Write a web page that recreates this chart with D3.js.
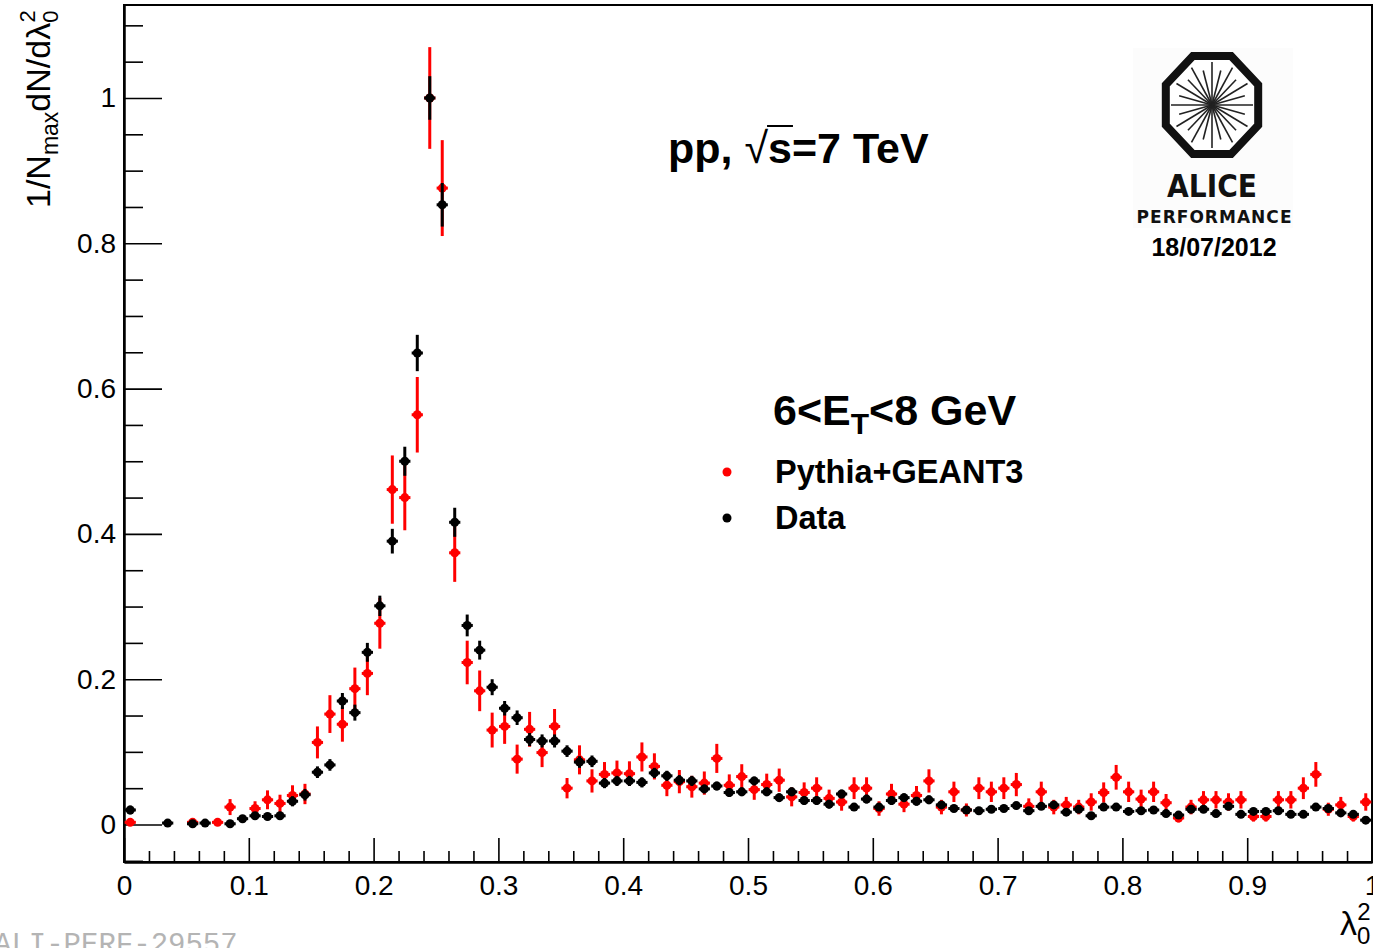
<!DOCTYPE html>
<html>
<head>
<meta charset="utf-8">
<script src="https://cdn.jsdelivr.net/npm/d3@7"></script>
<style>
  html, body { margin: 0; padding: 0; background: #fff; overflow: hidden; }
  svg { display: block; font-family: "Liberation Sans", Arial, sans-serif; }
</style>
</head>
<body>
<svg id="chart" width="1373" height="948"></svg>
<script>
// bin centres of lambda_0^2 (bin width 0.01)
const lambdaBins = [
  0.005, 0.015, 0.025, 0.035, 0.045, 0.055, 0.065, 0.075, 0.085, 0.095,
  0.105, 0.115, 0.125, 0.135, 0.145, 0.155, 0.165, 0.175, 0.185, 0.195,
  0.205, 0.215, 0.225, 0.235, 0.245, 0.255, 0.265, 0.275, 0.285, 0.295,
  0.305, 0.315, 0.325, 0.335, 0.345, 0.355, 0.365, 0.375, 0.385, 0.395,
  0.405, 0.415, 0.425, 0.435, 0.445, 0.455, 0.465, 0.475, 0.485, 0.495,
  0.505, 0.515, 0.525, 0.535, 0.545, 0.555, 0.565, 0.575, 0.585, 0.595,
  0.605, 0.615, 0.625, 0.635, 0.645, 0.655, 0.665, 0.675, 0.685, 0.695,
  0.705, 0.715, 0.725, 0.735, 0.745, 0.755, 0.765, 0.775, 0.785, 0.795,
  0.805, 0.815, 0.825, 0.835, 0.845, 0.855, 0.865, 0.875, 0.885, 0.895,
  0.905, 0.915, 0.925, 0.935, 0.945, 0.955, 0.965, 0.975, 0.985, 0.995
];

// Data (black)
const dataVals = [
  0.020, null, null, 0.002, null, 0.001, 0.002, null, 0.001, 0.008,
  0.012, 0.011, 0.012, 0.032, 0.041, 0.072, 0.082, 0.170, 0.154, 0.237,
  0.301, 0.390, 0.500, 0.649, 1.000, 0.853, 0.416, 0.274, 0.240, 0.189,
  0.160, 0.147, 0.117, 0.115, 0.115, 0.101, 0.086, 0.087, 0.057, 0.060,
  0.060, 0.058, 0.071, 0.067, 0.061, 0.060, 0.049, 0.053, 0.044, 0.045,
  0.060, 0.045, 0.037, 0.045, 0.033, 0.033, 0.028, 0.042, 0.024, 0.035,
  0.024, 0.033, 0.037, 0.032, 0.034, 0.027, 0.022, 0.020, 0.019, 0.021,
  0.022, 0.026, 0.019, 0.025, 0.027, 0.017, 0.021, 0.012, 0.024, 0.024,
  0.018, 0.019, 0.020, 0.015, 0.013, 0.021, 0.021, 0.015, 0.025, 0.014,
  0.018, 0.018, 0.019, 0.014, 0.014, 0.024, 0.022, 0.016, 0.014, 0.006
];
const dataErr = [
  0.006, null, null, 0.004, null, 0.004, 0.004, null, 0.004, 0.005,
  0.005, 0.005, 0.005, 0.007, 0.008, 0.008, 0.008, 0.011, 0.011, 0.013,
  0.014, 0.017, 0.020, 0.025, 0.030, 0.030, 0.020, 0.015, 0.013, 0.011,
  0.010, 0.010, 0.009, 0.009, 0.009, 0.008, 0.008, 0.008, 0.007, 0.007,
  0.007, 0.007, 0.007, 0.007, 0.007, 0.007, 0.006, 0.006, 0.006, 0.006,
  0.006, 0.006, 0.006, 0.006, 0.006, 0.006, 0.006, 0.006, 0.005, 0.006,
  0.005, 0.006, 0.006, 0.006, 0.006, 0.005, 0.005, 0.005, 0.005, 0.005,
  0.005, 0.005, 0.005, 0.005, 0.005, 0.005, 0.005, 0.005, 0.005, 0.005,
  0.005, 0.005, 0.005, 0.005, 0.005, 0.005, 0.005, 0.005, 0.005, 0.005,
  0.005, 0.005, 0.005, 0.005, 0.005, 0.005, 0.005, 0.005, 0.005, 0.005
];

// Pythia+GEANT3 (red)
const mcVals = [
  0.003, null, null, null, null, 0.003, null, 0.003, 0.024, null,
  0.022, 0.034, 0.029, 0.040, 0.042, 0.113, 0.152, 0.138, 0.187, 0.208,
  0.277, 0.461, 0.450, 0.564, 1.000, 0.876, 0.374, 0.223, 0.184, 0.130,
  0.135, 0.090, 0.131, 0.099, 0.135, 0.050, 0.089, 0.060, 0.069, 0.071,
  0.070, 0.093, 0.080, 0.054, 0.059, 0.052, 0.057, 0.091, 0.054, 0.066,
  0.048, 0.055, 0.061, 0.038, 0.044, 0.050, 0.036, 0.031, 0.050, 0.050,
  0.022, 0.042, 0.028, 0.040, 0.060, 0.024, 0.045, 0.020, 0.050, 0.045,
  0.050, 0.055, 0.025, 0.045, 0.024, 0.027, 0.024, 0.031, 0.044, 0.065,
  0.045, 0.035, 0.045, 0.030, 0.009, 0.024, 0.034, 0.034, 0.031, 0.034,
  0.011, 0.011, 0.034, 0.034, 0.050, 0.069, 0.021, 0.027, 0.011, 0.031
];
const mcErr = [
  0.005, null, null, null, null, 0.005, null, 0.005, 0.011, null,
  0.010, 0.013, 0.012, 0.014, 0.014, 0.022, 0.026, 0.024, 0.029, 0.030,
  0.035, 0.047, 0.045, 0.052, 0.070, 0.066, 0.040, 0.030, 0.028, 0.024,
  0.024, 0.020, 0.024, 0.020, 0.024, 0.014, 0.020, 0.016, 0.017, 0.017,
  0.017, 0.020, 0.018, 0.015, 0.016, 0.015, 0.016, 0.020, 0.015, 0.017,
  0.014, 0.015, 0.016, 0.013, 0.014, 0.015, 0.012, 0.012, 0.015, 0.015,
  0.010, 0.014, 0.011, 0.013, 0.016, 0.010, 0.014, 0.009, 0.015, 0.014,
  0.015, 0.016, 0.011, 0.014, 0.010, 0.011, 0.010, 0.012, 0.014, 0.017,
  0.014, 0.013, 0.014, 0.012, 0.006, 0.010, 0.012, 0.012, 0.012, 0.012,
  0.007, 0.007, 0.012, 0.012, 0.015, 0.017, 0.009, 0.011, 0.007, 0.012
];

const xTicks = [0, 0.1, 0.2, 0.3, 0.4, 0.5, 0.6, 0.7, 0.8, 0.9, 1];
const yTicks = [0, 0.2, 0.4, 0.6, 0.8, 1];
const seriesNames = ['Pythia+GEANT3', 'Data'];

const svg = d3.select('#chart');
const frame = { left: 124, right: 1372, top: 5, bottom: 862 };

const x = d3.scaleLinear().domain([0, 1]).range([frame.left, frame.right]);
const y = d3.scaleLinear().domain([-0.0516, 1.128]).range([frame.bottom, frame.top]);

// watermark id (drawn first, partly off canvas)
svg.append('text')
  .attr('x', -6).attr('y', 953)
  .attr('font-family', '"Liberation Mono", "DejaVu Sans Mono", monospace')
  .attr('font-size', 29)
  .attr('fill', '#b4b4b4')
  .text('ALI-PERF-29557');

// frame
svg.append('rect')
  .attr('x', frame.left).attr('y', frame.top)
  .attr('width', frame.right - frame.left).attr('height', frame.bottom - frame.top)
  .attr('fill', 'none').attr('stroke', '#000').attr('stroke-width', 2);

// Y axis - ticks drawn inside the frame
svg.append('g')
  .attr('transform', `translate(${frame.left},0)`)
  .call(d3.axisLeft(y).tickValues(yTicks).tickSizeInner(-38).tickSizeOuter(0)
    .tickPadding(8).tickFormat(d3.format('~g')));
svg.append('g')
  .attr('transform', `translate(${frame.left},0)`)
  .call(d3.axisLeft(y).tickValues(d3.range(-0.05, 1.13, 0.05).filter(v => Math.abs(v * 5 - Math.round(v * 5)) > 1e-6))
    .tickSize(-19).tickSizeOuter(0).tickFormat(''));

// X axis
svg.append('g')
  .attr('transform', `translate(0,${frame.bottom})`)
  .call(d3.axisBottom(x).tickValues(xTicks).tickSizeInner(-24).tickSizeOuter(0)
    .tickPadding(13).tickFormat(d3.format('~g')));
svg.append('g')
  .attr('transform', `translate(0,${frame.bottom})`)
  .call(d3.axisBottom(x).tickValues(d3.range(0.02, 1, 0.02).filter(v => Math.abs(v * 10 - Math.round(v * 10)) > 1e-6))
    .tickSize(-11).tickSizeOuter(0).tickFormat(''));

svg.selectAll('.domain').attr('stroke-width', 2);
svg.selectAll('.tick line').attr('stroke-width', 1.6);
svg.selectAll('.tick text')
  .attr('font-family', '"Liberation Sans", Arial, sans-serif')
  .attr('font-size', 28)
  .attr('fill', '#000');

// Series
function drawSeries(vals, errs, color) {
  const pts = lambdaBins.map((l, i) => ({ l, v: vals[i], e: errs[i] })).filter(d => d.v !== null);
  const g = svg.append('g');
  g.selectAll('line.ey').data(pts).enter().append('line')
    .attr('x1', d => x(d.l)).attr('x2', d => x(d.l))
    .attr('y1', d => y(d.v + d.e)).attr('y2', d => y(d.v - d.e))
    .attr('stroke', color).attr('stroke-width', 3);
  g.selectAll('line.ex').data(pts).enter().append('line')
    .attr('x1', d => x(d.l - 0.0045)).attr('x2', d => x(d.l + 0.0045))
    .attr('y1', d => y(d.v)).attr('y2', d => y(d.v))
    .attr('stroke', color).attr('stroke-width', 3);
  g.selectAll('circle').data(pts).enter().append('circle')
    .attr('cx', d => x(d.l)).attr('cy', d => y(d.v))
    .attr('r', 4.5).attr('fill', color);
}
drawSeries(mcVals, mcErr, '#ff0000');
drawSeries(dataVals, dataErr, '#000000');

// Y axis title
const yTitle = svg.append('text')
  .attr('transform', 'translate(50,208) rotate(-90)')
  .attr('font-size', 34).attr('fill', '#000');
yTitle.append('tspan').text('1/N');
yTitle.append('tspan').attr('font-size', 23).attr('dy', 8).text('max');
yTitle.append('tspan').attr('dy', -8).text('dN/dλ');
yTitle.append('tspan').attr('font-size', 22).attr('dy', 8).text('0');
yTitle.append('tspan').attr('font-size', 22).attr('dx', -12).attr('dy', -23).text('2');

// X axis title
const xTitle = svg.append('text')
  .attr('x', 1340).attr('y', 935)
  .attr('font-size', 34).attr('fill', '#000');
xTitle.append('tspan').text('λ');
xTitle.append('tspan').attr('font-size', 24).attr('dy', 9).text('0');
xTitle.append('tspan').attr('font-size', 24).attr('dx', -13).attr('dy', -24).text('2');

// Title
const title = svg.append('text')
  .attr('x', 668).attr('y', 163)
  .attr('font-size', 43).attr('font-weight', 'bold').attr('fill', '#000');
title.append('tspan').text('pp, ');
title.append('tspan').attr('font-weight', 'normal').text('√');
title.append('tspan').text('s=7 TeV');
{
  const node = title.node();
  const s0 = node.getEndPositionOfChar(4).x;
  const s1 = node.getEndPositionOfChar(5).x;
  svg.append('line')
    .attr('x1', s0 - 1).attr('x2', s1 + 1)
    .attr('y1', 126).attr('y2', 126)
    .attr('stroke', '#000').attr('stroke-width', 2);
}

// Legend
const ptLabel = svg.append('text')
  .attr('x', 773).attr('y', 425)
  .attr('font-size', 43).attr('font-weight', 'bold').attr('fill', '#000');
ptLabel.append('tspan').text('6<E');
ptLabel.append('tspan').attr('font-size', 30).attr('dy', 9).text('T');
ptLabel.append('tspan').attr('dy', -9).text('<8 GeV');

const legendColors = ['#ff0000', '#000000'];
const legendY = [472, 518];
seriesNames.forEach((name, i) => {
  svg.append('circle')
    .attr('cx', 727).attr('cy', legendY[i]).attr('r', 4.5)
    .attr('fill', legendColors[i]);
  svg.append('text')
    .attr('x', 775).attr('y', legendY[i] + 11)
    .attr('font-size', 32.5).attr('font-weight', 'bold').attr('fill', '#000')
    .text(name);
});

// ALICE performance logo
const logo = svg.append('g');
logo.append('rect')
  .attr('x', 1133).attr('y', 48).attr('width', 160).attr('height', 180)
  .attr('fill', '#fcfcfc');
const cx = 1212, cy = 105;
const oct = d3.range(8).map(k => {
  const a = Math.PI / 8 + k * Math.PI / 4;
  return [cx + 50 * Math.cos(a), cy + 53 * Math.sin(a)];
});
logo.append('polygon')
  .attr('points', oct.map(p => p.join(',')).join(' '))
  .attr('fill', '#fff').attr('stroke', '#111').attr('stroke-width', 8)
  .attr('stroke-linejoin', 'miter');
d3.range(24).forEach(k => {
  const a = k * Math.PI / 12;
  const len = k % 2 ? 34 : 41;
  logo.append('line')
    .attr('x1', cx).attr('y1', cy)
    .attr('x2', cx + len * Math.cos(a)).attr('y2', cy + len * 1.05 * Math.sin(a))
    .attr('stroke', '#222').attr('stroke-width', 1.6);
});
logo.append('text')
  .attr('x', 1212).attr('y', 197).attr('text-anchor', 'middle')
  .attr('font-family', '"DejaVu Sans", sans-serif')
  .attr('font-size', 32).attr('font-weight', 'bold').attr('fill', '#111')
  .attr('textLength', 90).attr('lengthAdjust', 'spacingAndGlyphs')
  .text('ALICE');
logo.append('text')
  .attr('x', 1214).attr('y', 223).attr('text-anchor', 'middle')
  .attr('font-family', '"DejaVu Sans", sans-serif')
  .attr('font-size', 17).attr('font-weight', 'bold').attr('fill', '#111')
  .attr('textLength', 155).attr('lengthAdjust', 'spacing')
  .text('PERFORMANCE');
logo.append('text')
  .attr('x', 1214).attr('y', 256).attr('text-anchor', 'middle')
  .attr('font-size', 25).attr('font-weight', 'bold').attr('fill', '#000')
  .text('18/07/2012');
</script>
</body>
</html>
